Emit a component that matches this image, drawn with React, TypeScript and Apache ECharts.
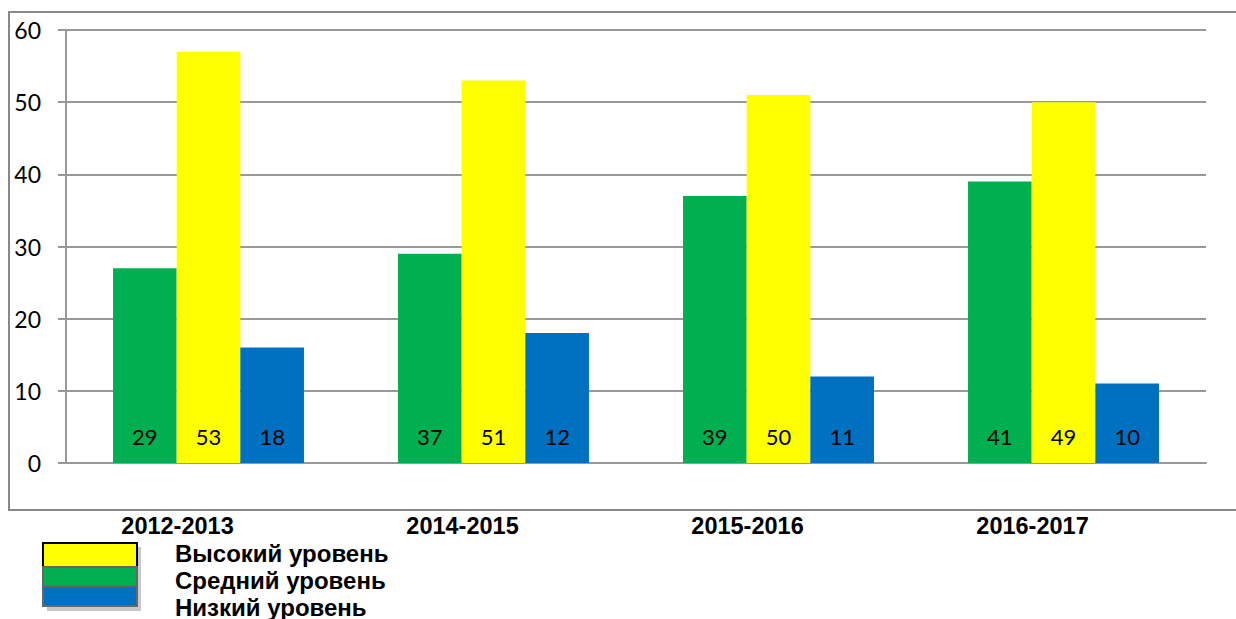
import React, { useEffect, useRef } from "react";
import * as echarts from "echarts";

const categories = ["2012-2013", "2014-2015", "2015-2016", "2016-2017"];
const seriesNames = ["Средний уровень", "Высокий уровень", "Низкий уровень"];
const midValues = [27, 29, 37, 39];
const highValues = [57, 53, 51, 50];
const lowValues = [16, 18, 12, 11];
const midLabels = [29, 37, 39, 41];
const highLabels = [53, 51, 50, 49];
const lowLabels = [18, 12, 11, 10];
const colors = ["#00B050", "#FFFF00", "#0070C0"];

export default function App() {
  const ref = useRef<HTMLDivElement>(null);
  useEffect(() => {
    document.body.style.margin = "0";
    const chart = echarts.init(ref.current!, null, { renderer: "svg" });
    const mkSeries = (name: string, values: number[], labels: number[], color: string) => ({
      name,
      type: "bar",
      data: values,
      barGap: "0%",
      barCategoryGap: "33%",
      itemStyle: { color },
      label: {
        show: true,
        position: "insideBottom",
        distance: 16,
        formatter: (p: any) => String(labels[p.dataIndex]),
        color: "#000",
        fontSize: 22,
        fontFamily: "Lato, 'Open Sans', sans-serif",
      },
    });
    const legendOrder = [
      { name: seriesNames[1], color: colors[1], border: "#000", swTop: 543, h: 24, textTop: 541 },
      { name: seriesNames[0], color: colors[0], border: "#666", swTop: 567, h: 19, textTop: 568 },
      { name: seriesNames[2], color: colors[2], border: "#666", swTop: 586, h: 20, textTop: 595 },
    ];
    chart.setOption({
      animation: false,
      grid: { left: 66, top: 30, right: 30, bottom: 156, containLabel: false },
      graphic: [
        {
          type: "rect",
          shape: { x: 9, y: 12, width: 1240, height: 498 },
          style: { fill: "none", stroke: "#888", lineWidth: 2 },
          silent: true,
          z: -10,
        },
        {
          type: "rect",
          shape: { x: 47, y: 547, width: 94, height: 64 },
          style: { fill: "#c8c8c8" },
          silent: true,
          z: -5,
        },
        ...legendOrder.map((l) => ({
          type: "rect",
          shape: { x: 43, y: l.swTop, width: 94, height: l.h },
          style: { fill: l.color, stroke: l.border, lineWidth: 2 },
          silent: true,
          z: 1,
        })),
      ],
      legend: legendOrder.map((l) => ({
        orient: "vertical",
        left: 42,
        top: l.textTop,
        itemWidth: 100,
        itemHeight: 2,
        itemGap: 0,
        icon: "rect",
        selectedMode: false,
        padding: 0,
        textStyle: {
          fontFamily: "'Liberation Sans', Arial, sans-serif",
          fontWeight: "bold",
          fontSize: 24,
          color: "#000",
          padding: [0, 0, 0, 28],
        },
        data: [{ name: l.name, itemStyle: { opacity: 0 } }],
      })),
      xAxis: {
        type: "category",
        data: categories,
        axisLine: { show: true, lineStyle: { color: "#999", width: 2 } },
        axisTick: { show: false },
        axisLabel: {
          margin: 51,
          padding: [0, 62, 0, 0],
          color: "#000",
          fontFamily: "'Liberation Sans', Arial, sans-serif",
          fontWeight: "bold",
          fontSize: 23.5,
        },
      },
      yAxis: {
        type: "value",
        min: 0,
        max: 60,
        interval: 10,
        axisLine: { show: true, lineStyle: { color: "#999", width: 2 } },
        axisTick: { show: true, length: 8, lineStyle: { color: "#999", width: 2 } },
        splitLine: { show: true, lineStyle: { color: "#999", width: 2 } },
        axisLabel: {
          margin: 25,
          color: "#000",
          fontSize: 23,
          fontFamily: "Lato, 'Open Sans', sans-serif",
        },
      },
      series: [
        mkSeries(seriesNames[0], midValues, midLabels, colors[0]),
        mkSeries(seriesNames[1], highValues, highLabels, colors[1]),
        mkSeries(seriesNames[2], lowValues, lowLabels, colors[2]),
      ],
    });
    return () => chart.dispose();
  }, []);
  return <div ref={ref} style={{ width: 1236, height: 619 }} />;
}
